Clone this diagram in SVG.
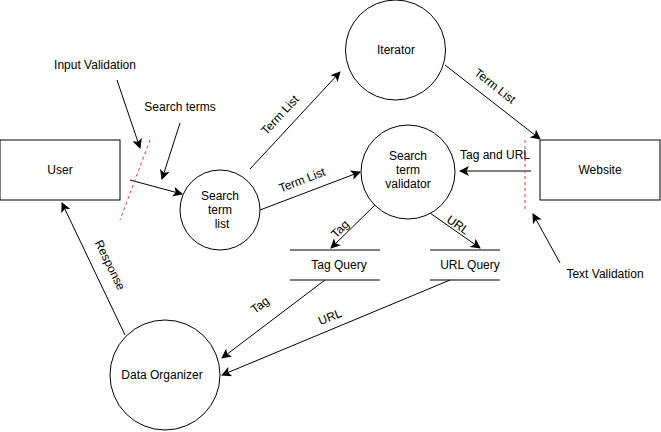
<svg xmlns="http://www.w3.org/2000/svg" width="661" height="432" viewBox="0 0 661 432">
<defs>
<marker id="arr" viewBox="0 0 10 10" refX="9" refY="5" markerWidth="10" markerHeight="10" markerUnits="userSpaceOnUse" orient="auto">
<path d="M0,0 L10,5 L0,10 L2.5,5 Z" fill="#000"/>
</marker>
<style>
.shape{fill:#fff;stroke:#000;stroke-width:1}
.line{fill:none;stroke:#000;stroke-width:1}
.red{fill:none;stroke:#ff3333;stroke-width:1;stroke-dasharray:3,3}
text{font-family:"Liberation Sans",Arial,sans-serif;font-size:12px;fill:#000;text-anchor:middle;dominant-baseline:central}
</style>
</defs>
<rect width="661" height="432" fill="#fff"/>
<g id="connectors">
<line class="line" x1="130" y1="180" x2="182" y2="194" marker-end="url(#arr)"/>
<line class="red" x1="150" y1="140" x2="120" y2="220"/>
<line class="line" x1="117" y1="80" x2="140" y2="148" marker-end="url(#arr)"/>
<line class="line" x1="180" y1="123" x2="162" y2="179" marker-end="url(#arr)"/>
<line class="line" x1="250" y1="169" x2="340" y2="72" marker-end="url(#arr)"/>
<line class="line" x1="260" y1="210" x2="360" y2="172" marker-end="url(#arr)"/>
<line class="line" x1="445" y1="65" x2="540" y2="139" marker-end="url(#arr)"/>
<line class="line" x1="531" y1="171" x2="460" y2="171" marker-end="url(#arr)"/>
<line class="red" x1="525" y1="140" x2="525" y2="210"/>
<line class="line" x1="560" y1="263" x2="533" y2="214" marker-end="url(#arr)"/>
<line class="line" x1="375" y1="205" x2="331" y2="248" marker-end="url(#arr)"/>
<line class="line" x1="430" y1="213" x2="480" y2="248" marker-end="url(#arr)"/>
<line class="line" x1="325" y1="280" x2="222" y2="358" marker-end="url(#arr)"/>
<line class="line" x1="450" y1="280" x2="222" y2="375" marker-end="url(#arr)"/>
<line class="line" x1="125" y1="335" x2="62" y2="203" marker-end="url(#arr)"/>
<text x="280" y="115" transform="rotate(-47 280 115)">Term List</text>
<text x="302" y="180" transform="rotate(-21 302 180)">Term List</text>
<text x="495" y="86" transform="rotate(38 495 86)">Term List</text>
<text x="495" y="155">Tag and URL</text>
<text x="340" y="229" transform="rotate(-45 340 229)">Tag</text>
<text x="458" y="225" transform="rotate(35 458 225)">URL</text>
<text x="260" y="305" transform="rotate(-37 260 305)">Tag</text>
<text x="330" y="317" transform="rotate(-22 330 317)">URL</text>
<text x="110" y="265" transform="rotate(64 110 265)">Response</text>
<text x="95" y="65">Input Validation</text>
<text x="180" y="107">Search terms</text>
<text x="605" y="274">Text Validation</text>
</g>
<g id="user"><rect class="shape" x="0" y="140" width="120" height="60"/><text x="60" y="170">User</text></g>
<g id="search-term-list"><circle class="shape" cx="220" cy="210" r="40"/><text x="220" y="196">Search</text><text x="220" y="210">term</text><text x="222" y="224">list</text></g>
<g id="iterator"><circle class="shape" cx="395.5" cy="50" r="50"/><text x="396" y="50">Iterator</text></g>
<g id="search-term-validator"><circle class="shape" cx="408" cy="172" r="47"/><text x="408" y="156">Search</text><text x="408" y="170">term</text><text x="408" y="184">validator</text></g>
<g id="website"><rect class="shape" x="540" y="140" width="120" height="60"/><text x="600" y="170">Website</text></g>
<g id="tag-query"><line class="line" x1="290" y1="250" x2="380" y2="250"/><line class="line" x1="290" y1="280" x2="380" y2="280"/><text x="339" y="265">Tag Query</text></g>
<g id="url-query"><line class="line" x1="430" y1="250" x2="500" y2="250"/><line class="line" x1="430" y1="280" x2="500" y2="280"/><text x="470" y="265">URL Query</text></g>
<g id="data-organizer"><circle class="shape" cx="165" cy="375" r="55"/><text x="162" y="375">Data Organizer</text></g>
</svg>
